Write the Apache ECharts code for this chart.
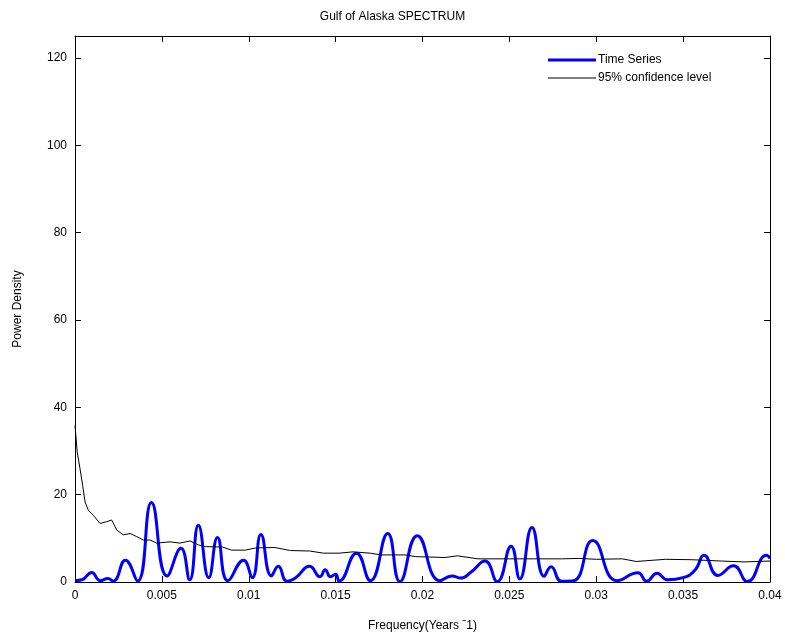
<!DOCTYPE html>
<html>
<head>
<meta charset="utf-8">
<script src="https://cdn.jsdelivr.net/npm/echarts@6/dist/echarts.min.js"></script>
<style>html,body{margin:0;padding:0;background:#fff;}#c{width:785px;height:637px;}</style>
</head>
<body>
<div id="c"></div>
<script>
const titleText = 'Gulf of Alaska SPECTRUM';
const xName = 'Frequency(Years ˉ1)';
const yName = 'Power Density';
const seriesNames = ['Time Series', '95% confidence level'];

const tsFreq = [0, 0.0004, 0.00096, 0.00145, 0.0019, 0.0022, 0.0029, 0.0036, 0.0044, 0.0053,
  0.0061, 0.0066, 0.0071, 0.0077, 0.0082, 0.0088, 0.0097, 0.0102, 0.0107, 0.0113,
  0.0117, 0.0122, 0.0127, 0.0135, 0.0141, 0.0144, 0.0147, 0.0150, 0.0152, 0.0162,
  0.0170, 0.0180, 0.0187, 0.0197, 0.0210, 0.0217, 0.0222, 0.0228, 0.0236, 0.0243,
  0.0251, 0.0256, 0.0263, 0.0270, 0.0274, 0.0280, 0.0287, 0.0298, 0.0312, 0.0324,
  0.0329, 0.0335, 0.0341, 0.0350, 0.0357, 0.0362, 0.0370, 0.0379, 0.0387, 0.0398, 0.0400];
const tsPower = [0.3, 0.5, 2.2, 0.3, 0.8, 0.2, 5.0, 0.2, 18.2, 1.4,
  7.7, 0.5, 13.0, 1.0, 10.2, 0.3, 5.0, 1.0, 10.9, 1.4,
  3.6, 0.2, 1.0, 3.6, 1.2, 2.8, 1.2, 1.8, 0.2, 6.6,
  0.3, 11.1, 0.1, 10.6, 0.3, 1.4, 0.9, 2.3, 4.8, 0.1,
  8.2, 0.7, 12.5, 1.3, 3.5, 0.2, 0.3, 9.5, 0.3, 2.1,
  0.2, 2.0, 0.5, 1.0, 2.8, 6.1, 1.5, 3.7, 0.1, 6.1, 5.4];

const clFreq = [0, 0.00013, 0.00029, 0.00044, 0.00058, 0.00077, 0.00105, 0.00144, 0.00182, 0.00211,
  0.0024, 0.00278, 0.00317, 0.00355, 0.00393, 0.00432, 0.0047, 0.00547, 0.00604, 0.00662,
  0.0071, 0.0075, 0.0085, 0.0090, 0.0098, 0.0104, 0.0115, 0.0124, 0.0135, 0.0143,
  0.0152, 0.0160, 0.0170, 0.0176, 0.0190, 0.0196, 0.0206, 0.0213, 0.0220, 0.0232,
  0.0250, 0.0264, 0.0280, 0.0290, 0.0300, 0.0315, 0.0323, 0.0340, 0.0355, 0.0372,
  0.0385, 0.0400];
const clPower = [35.8, 29.7, 25.9, 22.1, 18.3, 16.4, 15.3, 13.4, 13.8, 14.2,
  11.9, 10.8, 11.1, 10.4, 9.6, 9.6, 8.9, 9.2, 8.9, 9.4,
  8.5, 8.1, 8.0, 7.3, 7.3, 7.8, 7.9, 7.2, 7.1, 6.6,
  6.6, 6.9, 6.6, 6.2, 6.2, 5.8, 5.7, 5.6, 6.0, 5.3,
  5.3, 5.3, 5.3, 5.4, 5.2, 5.3, 4.7, 5.2, 5.1, 4.8,
  4.6, 4.8];

const font = 'Liberation Sans, Arial, sans-serif';
const chart = echarts.init(document.getElementById('c'));
const tick = () => ({show: true, inside: true, length: 6, lineStyle: {color: '#000'}});
const line = () => ({show: true, onZero: false, lineStyle: {color: '#000', width: 1}});
chart.setOption({
  animation: false,
  backgroundColor: '#fff',
  title: {text: titleText, left: 'center', top: 6,
    textStyle: {fontFamily: font, fontSize: 12, fontWeight: 'normal', color: '#000'}},
  legend: {
    orient: 'vertical', left: 543, top: 49, itemWidth: 48, itemHeight: 14, itemGap: 6,
    data: [
      {name: seriesNames[0], icon: 'path://M0 0H48V3H0Z'},
      {name: seriesNames[1], icon: 'path://M0 0H48V1H0Z'}
    ],
    textStyle: {fontFamily: font, fontSize: 12, color: '#000', padding: [0, 0, 0, -3]}
  },
  grid: {left: 75, right: 15, top: 36, bottom: 53},
  xAxis: [{
    type: 'value', min: 0, max: 0.04, interval: 0.005,
    name: xName, nameLocation: 'middle', nameGap: 38,
    nameTextStyle: {fontFamily: font, fontSize: 12, color: '#000'},
    axisLine: line(), axisTick: tick(), splitLine: {show: false},
    axisLabel: {fontFamily: font, fontSize: 12, color: '#000', margin: 8,
      formatter: v => String(+v.toFixed(3))}
  }, {
    type: 'value', position: 'top', min: 0, max: 0.04, interval: 0.005,
    axisLine: line(), axisTick: tick(), axisLabel: {show: false}, splitLine: {show: false}
  }],
  yAxis: [{
    type: 'value', min: 0, max: 125, interval: 20,
    name: yName, nameLocation: 'middle', nameGap: 51,
    nameTextStyle: {fontFamily: font, fontSize: 12, color: '#000'},
    axisLine: line(), axisTick: tick(), splitLine: {show: false},
    axisLabel: {fontFamily: font, fontSize: 12, color: '#000', margin: 8, showMaxLabel: false}
  }, {
    type: 'value', position: 'right', min: 0, max: 125, interval: 20,
    axisLine: line(), axisTick: tick(), axisLabel: {show: false}, splitLine: {show: false}
  }],
  series: [{
    name: seriesNames[0], type: 'line', symbol: 'none', smooth: 0.5,
    lineStyle: {color: '#0000ff', width: 3}, itemStyle: {color: '#0000ff'},
    data: tsFreq.map((f, i) => [f, tsPower[i]]), clip: true
  }, {
    name: seriesNames[1], type: 'line', symbol: 'none',
    lineStyle: {color: '#000', width: 1}, itemStyle: {color: '#000'},
    data: clFreq.map((f, i) => [f, clPower[i]]), clip: true
  }]
});
</script>
</body>
</html>
